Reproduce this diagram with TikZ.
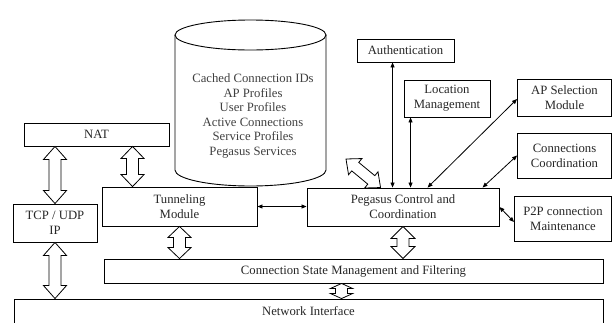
\documentclass[tikz,border=0pt]{standalone}
\usepackage{fontspec}
\setmainfont{Liberation Serif}
\usetikzlibrary{calc,arrows.meta}

\tikzset{
  box/.style={draw, line width=0.9pt, rectangle, inner sep=0pt, align=center,
              text=black!85, font=\fontsize{12.7}{14.8}\selectfont},
  link/.style={line width=0.8pt, {Triangle[length=5pt,width=4pt]}-{Triangle[length=5pt,width=4pt]}},
  hollow/.style={draw, line width=0.8pt, fill=white, line join=miter},
  store/.style={line width=0.9pt}
}

% hollow double-headed arrow between two named coordinates
% #1,#2 ends, #3 head length, #4 head half width, #5 shaft half width
\newcommand\hollowarrow[5]{%
  \draw[hollow] (#1)
    -- ($(#1)!#3!(#2)!#4!90:(#2)$)
    -- ($(#1)!#3!(#2)!#5!90:(#2)$)
    -- ($(#2)!#3!(#1)!#5!-90:(#1)$)
    -- ($(#2)!#3!(#1)!#4!-90:(#1)$)
    -- (#2)
    -- ($(#2)!#3!(#1)!#4!90:(#1)$)
    -- ($(#2)!#3!(#1)!#5!90:(#1)$)
    -- ($(#1)!#3!(#2)!#5!-90:(#2)$)
    -- ($(#1)!#3!(#2)!#4!-90:(#2)$)
    -- cycle;}

\begin{document}
\begin{tikzpicture}[x=1pt,y=-1pt]
\useasboundingbox (0,0) rectangle (613,322);

% data store
\draw[store] (175,35) -- (175,170) arc[start angle=180, end angle=360, x radius=75.5pt, y radius=16pt] -- (326,35);
\draw[store] (250.5,35) ellipse [x radius=75.5pt, y radius=15pt];
\node[align=center, text=black!75, font=\fontsize{12.7}{14.6}\selectfont] (store) at (253,116)
  {Cached Connection IDs\\AP Profiles\\User Profiles\\Active Connections\\Service Profiles\\Pegasus Services};

% modules
\node[box, minimum width=145pt, minimum height=23pt] (nat)   at (96.5,134.5) {NAT};
\node[box, minimum width=84pt,  minimum height=38pt] (tcp)   at (55,223)     {TCP / UDP\\IP};
\node[box, minimum width=155pt, minimum height=39pt] (tun)   at (179.5,206.5){Tunneling\\Module};
\node[box, minimum width=192pt, minimum height=38pt] (peg)   at (403,207)    {Pegasus Control and\\Coordination};
\node[box, minimum width=97pt,  minimum height=23pt] (auth)  at (405.5,50.5) {Authentication};
\node[box, minimum width=86pt,  minimum height=37pt] (loc)   at (447,98.5)   {Location\\Management};
\node[box, minimum width=94pt,  minimum height=37pt] (apsel) at (564.5,97.5) {AP Selection\\Module};
\node[box, minimum width=94pt,  minimum height=45pt] (conn)  at (564.5,155.5){Connections\\Coordination};
\node[box, minimum width=97pt,  minimum height=45pt] (p2p)   at (563,218.5)  {P2P connection\\Maintenance};
\node[box, minimum width=499pt, minimum height=24pt] (cs)    at (353.5,271)  {Connection State Management and Filtering};
\node[box, minimum width=589pt, minimum height=25pt] (net)   at (308.5,311.5){Network Interface};

% thin control links
\coordinate (authx) at ($(auth.south west)+(36,0)$);
\draw[link] (authx) -- (authx |- peg.north);
\coordinate (locx) at ($(loc.south west)+(7,0)$);
\draw[link] (locx) -- (locx |- peg.north);
\coordinate (pegap) at ($(peg.north west)+(121,0)$);
\draw[link] ($(apsel.west)+(0,1.5)$) -- (pegap);
\coordinate (pegcc) at ($(peg.north west)+(176,0)$);
\draw[link] (conn.west) -- (pegcc);
\draw[link] (peg.east) -- ($(p2p.west)+(0,3.5)$);
\draw[link] (tun.east) -- (tun.east -| peg.west);

% hollow data-path arrows
\coordinate (a1) at (tcp.north);        \coordinate (a2) at (tcp.north |- nat.south);
\hollowarrow{a2}{a1}{13pt}{11.5pt}{6pt}
\coordinate (b1) at ($(tun.north west)+(31,0)$); \coordinate (b2) at (b1 |- nat.south);
\hollowarrow{b2}{b1}{12pt}{11.5pt}{6pt}
\coordinate (c1) at (tcp.south);        \coordinate (c2) at (tcp.south |- net.north);
\hollowarrow{c1}{c2}{13pt}{11.5pt}{6pt}
\coordinate (d1) at (tun.south);        \coordinate (d2) at (tun.south |- cs.north);
\hollowarrow{d1}{d2}{11pt}{11.5pt}{6pt}
\coordinate (e1) at (peg.south);        \coordinate (e2) at (peg.south |- cs.north);
\hollowarrow{e1}{e2}{12pt}{12pt}{6pt}
\coordinate (f1) at ($(cs.south west)+(238,0)$); \coordinate (f2) at (f1 |- net.north);
\hollowarrow{f1}{f2}{5pt}{11pt}{6pt}
\coordinate (g1) at (346,159);          \coordinate (g2) at ($(peg.north west)+(74,0)$);
\hollowarrow{g1}{g2}{12pt}{10.5pt}{5.5pt}

\end{tikzpicture}
\end{document}
